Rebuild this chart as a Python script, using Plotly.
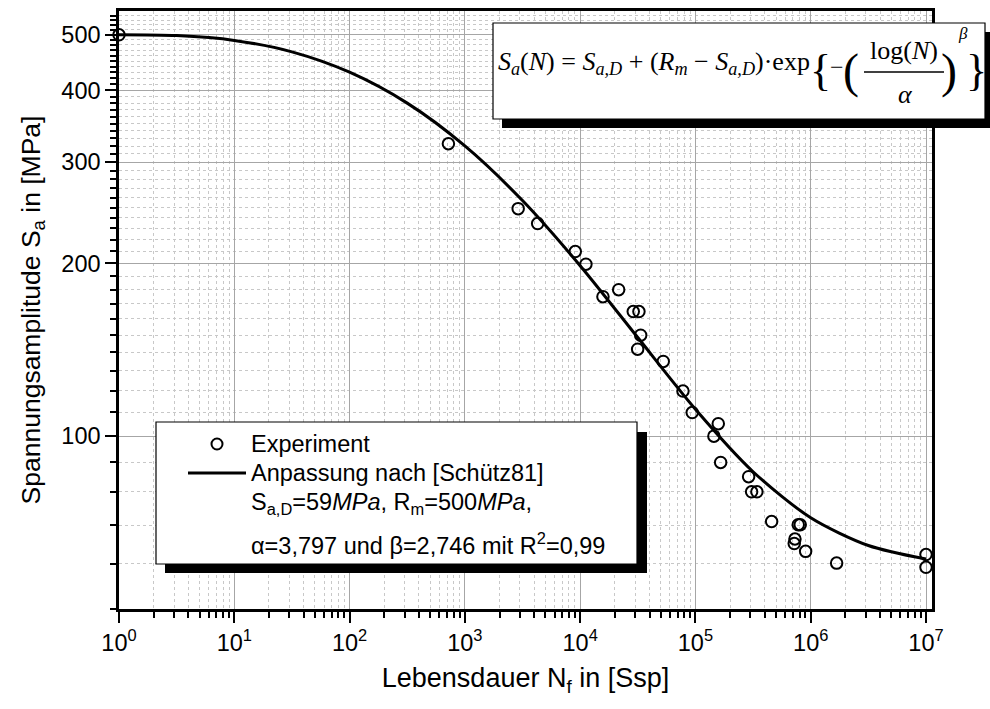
import plotly.graph_objects as go

# ---------------- data ----------------
exp_N = [1, 720, 2900, 4280, 9070, 11220, 15770, 21580, 28890, 32350,
         33480, 31530, 52580, 77940, 93800, 157800, 144600, 165500, 289300, 307100,
         341500, 458200, 719500, 729700, 779600, 811000, 903300, 1678000, 1e7, 1e7]
exp_S = [500, 323, 249, 234.5, 209.6, 199.3, 174.9, 179.9, 164.8, 164.8,
         149.9, 141.7, 134.9, 119.8, 109.9, 105.1, 100.0, 90.0, 85.0, 80.0,
         80.0, 71.0, 65.0, 66.2, 70.1, 70.1, 63.0, 60.1, 62.2, 59.1]

fit_N = [1, 3.162, 10, 31.62, 100, 316.2, 1000, 3162, 10000, 31623,
         100000, 316228, 1000000, 3162278, 10000000]
fit_S = [500, 498.3, 488.8, 466.9, 430.3, 380.1, 320.2, 257.2, 198.1, 148.5,
         111.4, 86.7, 72.1, 64.5, 61.1]

x_tickvals = [1, 10, 100, 1000, 10000, 100000, 1000000, 10000000]
x_ticktext = ["10<sup>0</sup>", "10<sup>1</sup>", "10<sup>2</sup>", "10<sup>3</sup>",
              "10<sup>4</sup>", "10<sup>5</sup>", "10<sup>6</sup>", "10<sup>7</sup>"]
x_minor = [m * 10 ** e for e in range(0, 7) for m in range(2, 10)]
y_tickvals = [100, 200, 300, 400, 500]
y_ticktext = ["100", "200", "300", "400", "500"]
y_minor = [v for v in range(50, 550, 10) if v not in y_tickvals]

legend_lines = [
    "Experiment",
    "Anpassung nach [Schütz81]",
    "S<sub>a,D</sub>=59<i>MPa</i>, R<sub>m</sub>=500<i>MPa</i>,",
    "α=3,797 und β=2,746 mit R<sup>2</sup>=0,99",
]

# ---------------- layout geometry ----------------
W, H = 990, 709
L, R, T, B = 119, 932, 11, 609


def px(x):
    return (x - L) / (R - L)


def py(y):
    return (B - y) / (B - T)


SANS = "Liberation Sans, Arial, sans-serif"
SERIF = "Liberation Serif, Times New Roman, serif"

fig = go.Figure()
fig.add_trace(go.Scatter(
    x=fit_N, y=fit_S, mode="lines", name="Anpassung nach [Schütz81]",
    line=dict(color="black", width=3, shape="spline", smoothing=0.8),
    cliponaxis=False, showlegend=False))
fig.add_trace(go.Scatter(
    x=exp_N, y=exp_S, mode="markers", name="Experiment",
    marker=dict(symbol="circle-open", size=11.5, color="black", line=dict(width=2)),
    cliponaxis=False, showlegend=False))

axis_common = dict(
    showline=True, linecolor="black", linewidth=2.5, mirror=True,
    ticks="outside", ticklen=11, tickwidth=2, tickcolor="black",
    showgrid=True, gridcolor="#a6a6a6", gridwidth=1,
    zeroline=False, automargin=False,
    tickfont=dict(family=SANS, size=23.5, color="black"),
)

fig.update_xaxes(
    type="log", range=[0, 7.052],
    tickmode="array", tickvals=x_tickvals, ticktext=x_ticktext,
    minor=dict(tickmode="array", tickvals=x_minor, ticks="outside", ticklen=6,
               tickwidth=2, tickcolor="black", showgrid=True,
               gridcolor="#c8c8c8", griddash="dot", gridwidth=1),
    title=dict(text="Lebensdauer N<sub>f</sub> in [Ssp]",
               font=dict(family=SANS, size=27, color="black"), standoff=14),
    ticklabelstandoff=0,
    **axis_common)
fig.update_yaxes(
    type="log", range=[1.69897, 2.74036],
    tickmode="array", tickvals=y_tickvals, ticktext=y_ticktext,
    minor=dict(tickmode="array", tickvals=y_minor, ticks="outside", ticklen=6,
               tickwidth=2, tickcolor="black", showgrid=True,
               gridcolor="#c8c8c8", griddash="dot", gridwidth=1),
    title=dict(text="Spannungsamplitude S<sub>a</sub> in [MPa]",
               font=dict(family=SANS, size=26.5, color="black"), standoff=14),
    ticklabelstandoff=0,
    **axis_common)

shapes = []
annotations = []

# ---------- equation box (top right) ----------
shapes.append(dict(type="rect", xref="paper", yref="paper", layer="above",
                   x0=px(502), x1=px(994), y0=py(128), y1=py(32),
                   fillcolor="black", line=dict(width=0)))
shapes.append(dict(type="rect", xref="paper", yref="paper", layer="above",
                   x0=px(493), x1=px(985), y0=py(119), y1=py(23),
                   fillcolor="white", line=dict(color="black", width=1.2)))
shapes.append(dict(type="line", xref="paper", yref="paper", layer="above",
                   x0=px(864), x1=px(944), y0=py(72), y1=py(72),
                   line=dict(color="black", width=1.5)))


def ann(x, y, text, size, family=SERIF, xanchor="center", yanchor="middle"):
    annotations.append(dict(
        x=px(x), y=py(y), xref="paper", yref="paper", text=text, showarrow=False,
        xanchor=xanchor, yanchor=yanchor,
        font=dict(family=family, size=size, color="black")))


ann(496, 63,
    "<i>S</i><sub><i>a</i></sub>(<i>N</i>) = <i>S</i><sub><i>a,D</i></sub> + "
    "(<i>R</i><sub><i>m</i></sub> − <i>S</i><sub><i>a,D</i></sub>)·exp",
    26, xanchor="left")
ann(820, 70, "{", 44)
ann(837, 67, "−", 24)
ann(851, 71, "(", 48)
ann(904, 51, "log(<i>N</i>)", 26)
ann(905, 94, "<i>α</i>", 26)
ann(949, 71, ")", 48)
ann(963, 34, "<i>β</i>", 17)
ann(976, 70, "}", 44)

# ---------- legend box (bottom left) ----------
shapes.append(dict(type="rect", xref="paper", yref="paper", layer="above",
                   x0=px(165), x1=px(647), y0=py(573), y1=py(432),
                   fillcolor="black", line=dict(width=0)))
shapes.append(dict(type="rect", xref="paper", yref="paper", layer="above",
                   x0=px(156), x1=px(637), y0=py(564), y1=py(422),
                   fillcolor="white", line=dict(color="black", width=1.2)))
shapes.append(dict(type="circle", xref="paper", yref="paper", layer="above",
                   x0=px(211.5), x1=px(222.5), y0=py(449.5), y1=py(438.5),
                   line=dict(color="black", width=2), fillcolor="rgba(0,0,0,0)"))
shapes.append(dict(type="line", xref="paper", yref="paper", layer="above",
                   x0=px(188), x1=px(246), y0=py(473), y1=py(473),
                   line=dict(color="black", width=3)))

leg_y = [444, 473, 503, 544]
for txt, yy in zip(legend_lines, leg_y):
    ann(249, yy, txt, 23.5, family=SANS, xanchor="left")

fig.update_layout(
    width=W, height=H,
    margin=dict(l=L, r=W - R, t=T, b=H - B, pad=0, autoexpand=False),
    plot_bgcolor="white", paper_bgcolor="white",
    shapes=shapes, annotations=annotations,
    showlegend=False,
    font=dict(family=SANS, color="black"),
)

fig.write_html("out.html",
               config={"displayModeBar": False},
               post_script="document.body.style.margin='0px';"
                           "document.body.style.overflow='hidden';")
